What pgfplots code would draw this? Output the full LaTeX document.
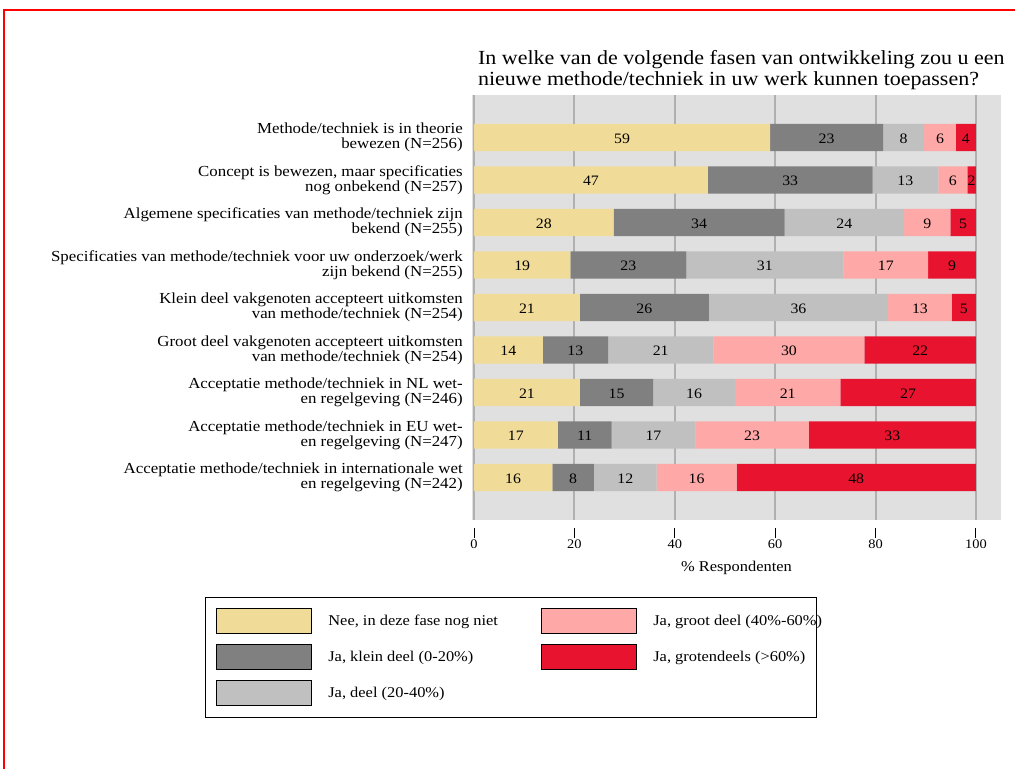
\documentclass[border=0pt]{standalone}
\usepackage{pgfplots}
\pgfplotsset{compat=1.18}
\usepackage{pgfplotstable}
\usepackage{fontspec}
\setmainfont{Liberation Serif}[FakeStretch=1.1]
\definecolor{cA}{RGB}{240,220,152}
\definecolor{cB}{RGB}{128,128,128}
\definecolor{cC}{RGB}{192,192,192}
\definecolor{cD}{RGB}{255,168,168}
\definecolor{cE}{RGB}{232,19,46}
\definecolor{bgc}{RGB}{224,224,224}
\definecolor{gridc}{RGB}{176,176,176}

\pgfplotstableread{
y v l
1 59.0 59
2 46.6 47
3 27.8 28
4 19.2 19
5 21.1 21
6 13.7 14
7 21.1 21
8 16.7 17
9 15.6 16
}\tA
\pgfplotstableread{
y v l
1 22.5 23
2 32.8 33
3 34.1 34
4 23.1 23
5 25.7 26
6 13.0 13
7 14.6 15
8 10.7 11
9 8.3 8
}\tB
\pgfplotstableread{
y v l
1 8.2 8
2 13.1 13
3 23.8 24
4 31.3 31
5 35.7 36
6 21.0 21
7 16.3 16
8 16.7 17
9 12.5 12
}\tC
\pgfplotstableread{
y v l
1 6.3 6
2 5.8 6
3 9.2 9
4 16.9 17
5 12.7 13
6 30.1 30
7 21.0 21
8 22.6 23
9 15.9 16
}\tD
\pgfplotstableread{
y v l
1 4.0 4
2 1.7 2
3 5.1 5
4 9.5 9
5 4.8 5
6 22.2 22
7 27.0 27
8 33.3 33
9 47.7 48
}\tE

\pgfplotsset{
  seg/.style={fill=#1, draw=none, forget plot, nodes near coords,
    point meta=explicit symbolic,
    every node near coord/.append style={anchor=center, yshift=-0.75pt,
      font=\fontsize{10.8}{12}\selectfont, text=black, inner sep=0pt}},
}

\begin{document}
\begin{tikzpicture}
\useasboundingbox (0,0) rectangle (761.25pt,576.75pt);
\draw[red, line width=1.5pt] (3pt,0) -- (3pt,569.25pt) -- (761.25pt,569.25pt);
\begin{axis}[
  at={(354pt,186.75pt)}, anchor=south west,
  scale only axis, width=396.75pt, height=318.75pt,
  xbar stacked, bar width=20.6pt,
  xmin=-0.4, xmax=105, ymin=0, ymax=10, y dir=reverse,
  axis background/.style={fill=bgc},
  axis line style={draw=none},
  xmajorgrids, grid style={color=gridc, line width=1.5pt},
  xtick={0,20,40,60,80,100},
  ytick={1,2,3,4,5,6,7,8,9},
  yticklabels={
    {Methode/techniek is in theorie\\bewezen (N=256)},
    {Concept is bewezen, maar specificaties\\nog onbekend (N=257)},
    {Algemene specificaties van methode/techniek zijn\\bekend (N=255)},
    {Specificaties van methode/techniek voor uw onderzoek/werk\\zijn bekend (N=255)},
    {Klein deel vakgenoten accepteert uitkomsten\\van methode/techniek (N=254)},
    {Groot deel vakgenoten accepteert uitkomsten\\van methode/techniek (N=254)},
    {Acceptatie methode/techniek in NL wet-\\en regelgeving (N=246)},
    {Acceptatie methode/techniek in EU wet-\\en regelgeving (N=247)},
    {Acceptatie methode/techniek in internationale wet\\en regelgeving (N=242)}},
  yticklabel style={align=right, font=\fontsize{11.5}{11}\selectfont, inner sep=0pt, xshift=0.75pt},
  ytick style={draw=none},
  xtick pos=bottom, tick align=outside, major tick length=7.5pt,
  xtick style={draw=black, line width=0.75pt, yshift=-6pt},
  xticklabel style={font=\fontsize{9.8}{11}\selectfont, yshift=-4pt},
  /pgf/number format/assume math mode=true,
  xlabel={\% Respondenten},
  xlabel style={font=\fontsize{11.2}{12}\selectfont, yshift=-2.25pt},
  title={In welke van de volgende fasen van ontwikkeling zou u een\\nieuwe methode/techniek in uw werk kunnen toepassen?},
  title style={at={(0.011,1)}, anchor=south west, align=left, inner sep=0pt, yshift=-2pt,
    font=\fontsize{15}{15.5}\selectfont},
  legend image code/.code={\fill[#1] (0pt,-6.4pt) rectangle (71.25pt,12.35pt);},
  legend columns=2,
  legend style={at={(-0.505,-0.181)}, anchor=north west, draw=black, line width=0.75pt,
    inner sep=8.25pt, row sep=7.4pt, column sep=0pt,
    nodes={inner sep=0pt, anchor=base west},
    font=\fontsize{11.2}{12}\selectfont},
]
\addplot[seg=cA] table[x=v, y=y, meta=l] {\tA};
\addplot[seg=cB] table[x=v, y=y, meta=l] {\tB};
\addplot[seg=cC] table[x=v, y=y, meta=l] {\tC};
\addplot[seg=cD] table[x=v, y=y, meta=l] {\tD};
\addplot[seg=cE] table[x=v, y=y, meta=l] {\tE};
\addlegendimage{fill=cA}
\addlegendentry{\hspace*{12pt}\makebox[159.75pt][l]{Nee, in deze fase nog niet}}
\addlegendimage{fill=cD}
\addlegendentry{\hspace*{12pt}\makebox[114pt][l]{Ja, groot deel (40\%-60\%)}}
\addlegendimage{fill=cB}
\addlegendentry{\hspace*{12pt}\makebox[159.75pt][l]{Ja, klein deel (0-20\%)}}
\addlegendimage{fill=cE}
\addlegendentry{\hspace*{12pt}\makebox[114pt][l]{Ja, grotendeels (>60\%)}}
\addlegendimage{fill=cC}
\addlegendentry{\hspace*{12pt}\makebox[159.75pt][l]{Ja, deel (20-40\%)}}
\end{axis}
\end{tikzpicture}
\end{document}
